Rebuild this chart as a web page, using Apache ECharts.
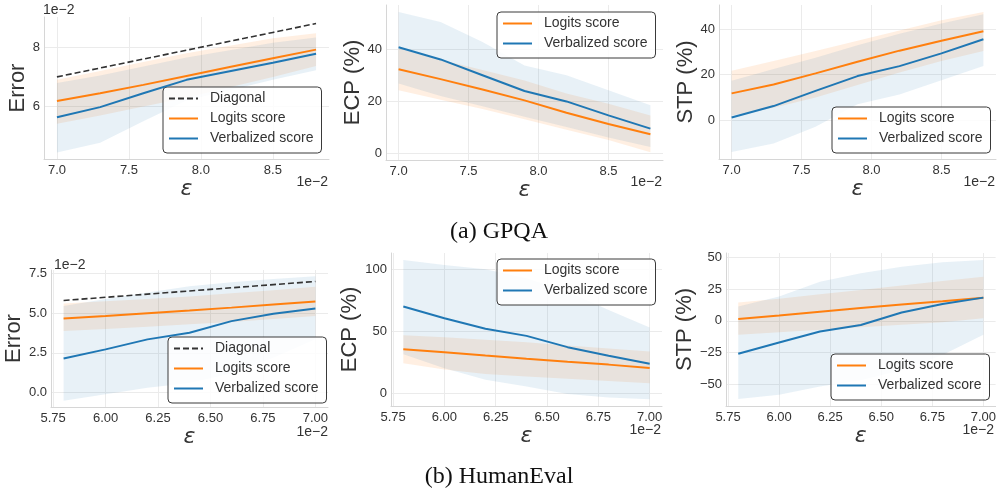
<!DOCTYPE html>
<html><head><meta charset="utf-8">
<script src="https://cdn.jsdelivr.net/npm/echarts/dist/echarts.min.js"></script>
<style>html,body{margin:0;padding:0;background:#fff}#c{width:999px;height:493px}</style>
</head><body><div id="c"></div>
<script>
// ---------------- DATA ----------------
const gpqaEps  = [7.0, 7.3, 7.6, 7.9, 8.2, 8.5, 8.8];
const humanEps = [5.8, 6.0, 6.2, 6.4, 6.6, 6.8, 7.0];

const gpqaXTicks  = [7.0, 7.5, 8.0, 8.5];
const humanXTicks = [5.75, 6.00, 6.25, 6.50, 6.75, 7.00];

// GPQA - Error
const gpqaErrDiagonal = [7.0, 7.3, 7.6, 7.9, 8.2, 8.5, 8.8];
const gpqaErrLogits   = [6.19, 6.45, 6.73, 7.03, 7.33, 7.63, 7.92];
const gpqaErrLogitsLo = [5.42, 5.70, 6.00, 6.30, 6.65, 7.00, 7.37];
const gpqaErrLogitsHi = [6.90, 7.20, 7.50, 7.80, 8.05, 8.30, 8.47];
const gpqaErrVerb     = [5.64, 5.98, 6.45, 6.90, 7.19, 7.48, 7.78];
const gpqaErrVerbLo   = [4.45, 4.78, 5.50, 6.20, 6.55, 6.90, 7.22];
const gpqaErrVerbHi   = [6.79, 7.05, 7.35, 7.65, 7.90, 8.15, 8.33];
const gpqaErrYTicks   = [6, 8];

// GPQA - ECP
const gpqaEcpLogits   = [32.3, 28.5, 24.5, 20.3, 15.5, 11.2, 7.2];
const gpqaEcpLogitsLo = [24.2, 20.5, 17.0, 13.0, 9.0, 5.0, 0.3];
const gpqaEcpLogitsHi = [40.3, 36.0, 32.0, 28.0, 23.0, 19.0, 14.5];
const gpqaEcpVerb     = [40.8, 36.1, 30.0, 23.9, 19.9, 14.5, 9.4];
const gpqaEcpVerbLo   = [26.8, 22.0, 18.0, 14.0, 10.0, 6.0, 2.3];
const gpqaEcpVerbHi   = [54.4, 50.5, 42.8, 33.8, 30.0, 24.2, 18.4];
const gpqaEcpYTicks   = [0, 20, 40];

// GPQA - STP
const gpqaStpLogits   = [11.8, 15.7, 20.6, 25.7, 30.6, 35.0, 39.1];
const gpqaStpLogitsLo = [2.0, 5.5, 10.0, 15.5, 21.0, 26.0, 30.5];
const gpqaStpLogitsHi = [21.8, 26.0, 30.5, 35.0, 39.5, 44.0, 47.6];
const gpqaStpVerb     = [1.2, 6.2, 12.9, 19.4, 23.8, 29.4, 35.6];
const gpqaStpVerbLo   = [-14.0, -10.3, -2.9, 7.0, 11.3, 17.6, 23.8];
const gpqaStpVerbHi   = [17.4, 22.5, 27.5, 33.0, 38.0, 42.6, 46.6];
const gpqaStpYTicks   = [0, 20, 40];

// HumanEval - Error
const humanErrDiagonal = [5.8, 6.0, 6.2, 6.4, 6.6, 6.8, 7.0];
const humanErrLogits   = [4.67, 4.83, 5.00, 5.17, 5.35, 5.55, 5.74];
const humanErrLogitsLo = [3.88, 4.00, 4.15, 4.30, 4.45, 4.63, 4.82];
const humanErrLogitsHi = [5.61, 5.75, 5.90, 6.05, 6.25, 6.45, 6.66];
const humanErrVerb     = [2.14, 2.72, 3.35, 3.77, 4.50, 4.97, 5.30];
const humanErrVerbLo   = [-0.52, -0.10, 0.30, 0.60, 1.20, 2.20, 3.35];
const humanErrVerbHi   = [5.45, 5.90, 6.30, 6.70, 6.95, 7.15, 7.33];
const humanErrYTicks   = [0.0, 2.5, 5.0, 7.5];

// HumanEval - ECP
const humanEcpLogits   = [35.5, 33.0, 30.3, 27.7, 25.3, 23.0, 20.2];
const humanEcpLogitsLo = [24.2, 19.0, 15.5, 13.5, 11.5, 9.7, 8.0];
const humanEcpLogitsHi = [46.8, 45.0, 43.0, 41.0, 38.5, 36.0, 33.6];
const humanEcpVerb     = [69.9, 60.5, 51.9, 46.2, 37.1, 30.1, 23.7];
const humanEcpVerbLo   = [31.4, 20.0, 10.7, 5.4, -0.8, -3.5, -4.9];
const humanEcpVerbHi   = [107.5, 103.5, 100.0, 92.7, 82.0, 67.0, 52.9];
const humanEcpYTicks   = [0, 50, 100];

// HumanEval - STP
const humanStpLogits   = [1.6, 4.3, 7.3, 10.2, 13.0, 15.5, 18.4];
const humanStpLogitsLo = [-11.0, -9.0, -7.0, -5.0, -3.0, -1.0, 2.1];
const humanStpLogitsHi = [14.5, 17.5, 21.0, 24.5, 28.0, 31.5, 35.0];
const humanStpVerb     = [-26.0, -17.1, -8.4, -3.2, 6.6, 13.4, 18.4];
const humanStpVerbLo   = [-61.8, -58.4, -51.8, -47.0, -39.0, -27.0, -11.0];
const humanStpVerbHi   = [11.3, 19.2, 31.0, 37.6, 42.8, 46.3, 48.1];
const humanStpYTicks   = [-50, -25, 0, 25, 50];

const seriesNames = ['Diagonal', 'Logits score', 'Verbalized score'];
const captions = ['(a) GPQA', '(b) HumanEval'];

// ---------------- PANELS (built from data) ----------------
const panels = [
  {eps: gpqaEps, xt: gpqaXTicks, xd: 1, diag: gpqaErrDiagonal, lo: [gpqaErrLogits, gpqaErrLogitsLo, gpqaErrLogitsHi], vb: [gpqaErrVerb, gpqaErrVerbLo, gpqaErrVerbHi], yt: gpqaErrYTicks, yd: 0, yname: 'Error'},
  {eps: gpqaEps, xt: gpqaXTicks, xd: 1, diag: null, lo: [gpqaEcpLogits, gpqaEcpLogitsLo, gpqaEcpLogitsHi], vb: [gpqaEcpVerb, gpqaEcpVerbLo, gpqaEcpVerbHi], yt: gpqaEcpYTicks, yd: 0, yname: 'ECP (%)'},
  {eps: gpqaEps, xt: gpqaXTicks, xd: 1, diag: null, lo: [gpqaStpLogits, gpqaStpLogitsLo, gpqaStpLogitsHi], vb: [gpqaStpVerb, gpqaStpVerbLo, gpqaStpVerbHi], yt: gpqaStpYTicks, yd: 0, yname: 'STP (%)'},
  {eps: humanEps, xt: humanXTicks, xd: 2, diag: humanErrDiagonal, lo: [humanErrLogits, humanErrLogitsLo, humanErrLogitsHi], vb: [humanErrVerb, humanErrVerbLo, humanErrVerbHi], yt: humanErrYTicks, yd: 1, yname: 'Error'},
  {eps: humanEps, xt: humanXTicks, xd: 2, diag: null, lo: [humanEcpLogits, humanEcpLogitsLo, humanEcpLogitsHi], vb: [humanEcpVerb, humanEcpVerbLo, humanEcpVerbHi], yt: humanEcpYTicks, yd: 0, yname: 'ECP (%)'},
  {eps: humanEps, xt: humanXTicks, xd: 2, diag: null, lo: [humanStpLogits, humanStpLogitsLo, humanStpLogitsHi], vb: [humanStpVerb, humanStpVerbLo, humanStpVerbHi], yt: humanStpYTicks, yd: 0, yname: 'STP (%)'}
];

// ---------------- LAYOUT / STYLE ----------------
const layout = [
  {grid: {left: 44, top: 17, width: 285, height: 142}, x: [6.91, 8.89], y: [4.23, 9.02], yGap: 15, legend: {left: 163, top: 87}, topOff: [43, 10], botOff: [328, 182]},
  {grid: {left: 386, top: 5, width: 277, height: 155}, x: [6.91, 8.89], y: [-2.7, 57.1], yGap: 22, legend: {left: 497, top: 12}, topOff: null, botOff: [662, 182]},
  {grid: {left: 719, top: 5, width: 277, height: 154}, x: [6.91, 8.89], y: [-17.1, 50.7], yGap: 19, legend: {left: 832, top: 107}, topOff: null, botOff: [995, 182]},
  {grid: {left: 51, top: 270, width: 277, height: 137}, x: [5.74, 7.06], y: [-0.91, 7.72], yGap: 22, legend: {left: 168, top: 337}, topOff: [54, 265], botOff: [328, 432]},
  {grid: {left: 391, top: 253, width: 271, height: 153}, x: [5.74, 7.06], y: [-10.4, 113.1], yGap: 26, legend: {left: 497, top: 259}, topOff: null, botOff: [661, 430]},
  {grid: {left: 726, top: 253, width: 270, height: 153}, x: [5.74, 7.06], y: [-67.3, 53.7], yGap: 27, legend: {left: 831, top: 354}, topOff: null, botOff: [994, 430]}
];

const ORANGE = '#ff7f0e', BLUE = '#1f77b4', DIAG = '#333333';
const TXT = '#333333', GRIDC = '#ebebeb', SPINE = '#d6d6d6';
const FONT = 'Liberation Sans';
const ICON_SOLID = 'path://M0,0h29v2h-29z';
const ICON_DASH = 'path://M0,0h6v2h-6zM9,0h6v2h-6zM18,0h6v2h-6zM27,0h2v2h-2z';
const fmt = (v, d) => v.toFixed(d).replace('-', '\u2212');

const grids = [], xAxes = [], yAxes = [], series = [], legends = [], graphics = [];

panels.forEach((p, i) => {
  const L = layout[i];
  grids.push(Object.assign({containLabel: false}, L.grid));
  xAxes.push({
    type: 'value', gridIndex: i, min: L.x[0], max: L.x[1],
    axisLine: {show: true, onZero: false, lineStyle: {color: SPINE, width: 1}},
    axisTick: {show: false, customValues: p.xt},
    axisLabel: {customValues: p.xt, formatter: v => fmt(v, p.xd), color: TXT, fontFamily: FONT, fontSize: 13, margin: 5},
    splitLine: {show: true, lineStyle: {color: GRIDC, width: 1}},
    name: 'ε', nameLocation: 'middle', nameGap: 14,
    nameTextStyle: {fontFamily: 'DejaVu Sans', fontStyle: 'italic', fontSize: 22, color: TXT}
  });
  yAxes.push({
    type: 'value', gridIndex: i, min: L.y[0], max: L.y[1],
    axisLine: {show: true, onZero: false, lineStyle: {color: SPINE, width: 1}},
    axisTick: {show: false, customValues: p.yt},
    axisLabel: {customValues: p.yt, formatter: v => fmt(v, p.yd), color: TXT, fontFamily: FONT, fontSize: 13, margin: 4},
    splitLine: {show: true, lineStyle: {color: GRIDC, width: 1}},
    name: p.yname, nameLocation: 'middle', nameRotate: 90, nameGap: L.yGap,
    nameTextStyle: {fontFamily: FONT, fontSize: 22, color: TXT}
  });

  // confidence band drawn as one polygon through the axes' scales
  const band = (lo, hi, color, op) => {
    const rows = p.eps.map((x, k) => [x, lo[k], hi[k]]);
    series.push({
      type: 'custom', name: '_band', xAxisIndex: i, yAxisIndex: i, silent: true, z: 1, clip: true,
      encode: {x: 0, y: [1, 2]}, data: rows,
      renderItem: (params, api) => {
        if (params.dataIndex !== 0) return null;
        const top = rows.map(r => api.coord([r[0], r[2]]));
        const bot = rows.map(r => api.coord([r[0], r[1]])).reverse();
        return {type: 'polygon', shape: {points: top.concat(bot)}, style: {fill: color, opacity: op}};
      }
    });
  };
  band(p.lo[1], p.lo[2], ORANGE, 0.12);
  band(p.vb[1], p.vb[2], BLUE, 0.1);

  const names = [];
  if (p.diag) {
    series.push({type: 'line', name: seriesNames[0], xAxisIndex: i, yAxisIndex: i, z: 3,
      data: p.eps.map((x, k) => [x, p.diag[k]]), symbol: 'none', showSymbol: false, color: DIAG,
      lineStyle: {color: DIAG, width: 1.6, type: [6, 3]}});
    names.push({name: seriesNames[0], icon: ICON_DASH});
  }
  series.push({type: 'line', name: seriesNames[1], xAxisIndex: i, yAxisIndex: i, z: 4,
    data: p.eps.map((x, k) => [x, p.lo[0][k]]), symbol: 'none', showSymbol: false, color: ORANGE,
    lineStyle: {color: ORANGE, width: 2}});
  series.push({type: 'line', name: seriesNames[2], xAxisIndex: i, yAxisIndex: i, z: 5,
    data: p.eps.map((x, k) => [x, p.vb[0][k]]), symbol: 'none', showSymbol: false, color: BLUE,
    lineStyle: {color: BLUE, width: 2}});
  names.push({name: seriesNames[1], icon: ICON_SOLID}, {name: seriesNames[2], icon: ICON_SOLID});

  legends.push({
    data: names, orient: 'vertical', left: L.legend.left, top: L.legend.top,
    itemWidth: 29, itemHeight: 2, itemGap: 5, selectedMode: false,
    padding: [4, 8, 7, 6], borderColor: '#3a3a3a', borderWidth: 1, borderRadius: 4,
    backgroundColor: 'rgba(255,255,255,0.85)',
    textStyle: {fontFamily: FONT, fontSize: 14, color: TXT, padding: [0, 0, 0, 7], lineHeight: 15}
  });

  if (L.topOff) graphics.push({type: 'text', x: L.topOff[0], y: L.topOff[1],
    style: {text: '1e\u22122', fill: TXT, font: '14px ' + FONT, align: 'left', verticalAlign: 'middle'}});
  graphics.push({type: 'text', x: L.botOff[0], y: L.botOff[1],
    style: {text: '1e\u22122', fill: TXT, font: '14px ' + FONT, align: 'right', verticalAlign: 'middle'}});
});

graphics.push({type: 'text', x: 499, y: 232, style: {text: captions[0], fill: '#111', font: '24px Liberation Serif', align: 'center', verticalAlign: 'middle'}});
graphics.push({type: 'text', x: 499, y: 477, style: {text: captions[1], fill: '#111', font: '24px Liberation Serif', align: 'center', verticalAlign: 'middle'}});

const chart = echarts.init(document.getElementById('c'), null, {renderer: 'canvas'});
chart.setOption({
  animation: false,
  backgroundColor: '#ffffff',
  grid: grids, xAxis: xAxes, yAxis: yAxes, series: series,
  legend: legends, graphic: graphics
});
</script>
</body></html>
